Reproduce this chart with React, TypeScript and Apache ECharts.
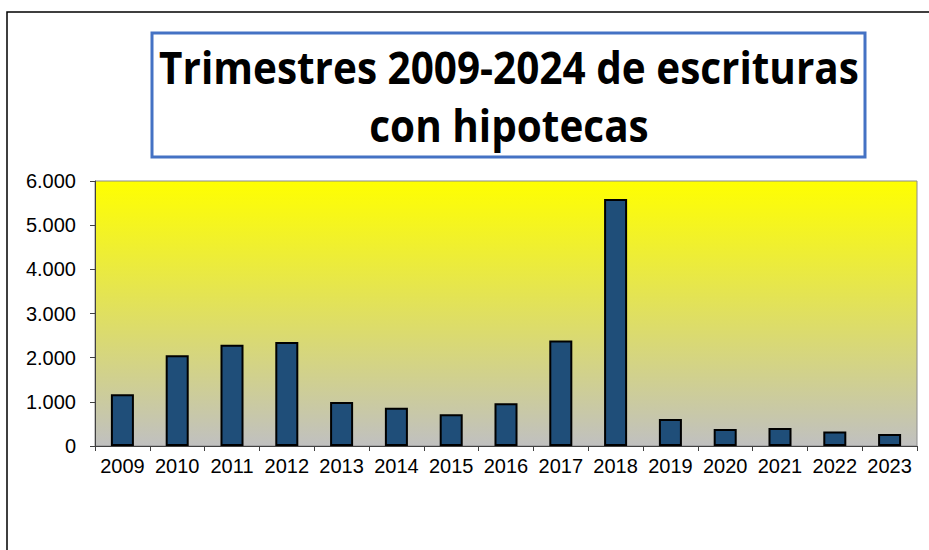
import React, { useEffect, useRef } from "react";
import * as echarts from "echarts";

const years = ["2009", "2010", "2011", "2012", "2013", "2014", "2015", "2016", "2017", "2018", "2019", "2020", "2021", "2022", "2023"];
const escrituras = [1170, 2055, 2290, 2355, 995, 865, 720, 970, 2390, 5590, 612, 385, 405, 327, 272];
const yTicks = { min: 0, max: 6000, interval: 1000 };
const titleLines = ["Trimestres 2009-2024 de escrituras", "con hipotecas"];

function fmt(v: number): string {
  return String(v).replace(/\B(?=(\d{3})+(?!\d))/g, ".");
}

export default function App() {
  const ref = useRef<HTMLDivElement>(null);
  useEffect(() => {
    if (!ref.current) return;
    const chart = echarts.init(ref.current, null, { renderer: "svg" });
    chart.setOption({
      animation: false,
      backgroundColor: "#ffffff",
      grid: {
        left: 95,
        right: 12,
        top: 181,
        bottom: 104,
        show: true,
        borderColor: "#8c8c8c",
        borderWidth: 1,
        backgroundColor: new echarts.graphic.LinearGradient(0, 0, 0, 1, [
          { offset: 0, color: "#ffff00" },
          { offset: 1, color: "#c0c0c0" },
        ]),
      },
      graphic: [
        {
          type: "rect",
          shape: { x: 7, y: 12, width: 960, height: 600 },
          style: { fill: "none", stroke: "#000000", lineWidth: 1.5 },
          silent: true,
        },
        {
          type: "rect",
          shape: { x: 152, y: 33, width: 713, height: 124 },
          style: { fill: "#ffffff", stroke: "#4472c4", lineWidth: 3 },
          silent: true,
        },
        {
          type: "text",
          x: 509,
          y: 67,
          scaleX: 0.92,
          style: {
            text: titleLines[0],
            fontFamily: "Open Sans",
            fontWeight: "bold",
            fontSize: 44,
            fill: "#000000",
            align: "center",
            verticalAlign: "middle",
          },
        },
        {
          type: "text",
          x: 509,
          y: 125,
          scaleX: 0.92,
          style: {
            text: titleLines[1],
            fontFamily: "Open Sans",
            fontWeight: "bold",
            fontSize: 44,
            fill: "#000000",
            align: "center",
            verticalAlign: "middle",
          },
        },
      ],
      xAxis: {
        type: "category",
        data: years,
        boundaryGap: true,
        axisLine: { show: true, lineStyle: { color: "#404040", width: 1 } },
        axisTick: { show: true, length: 5, lineStyle: { color: "#404040" } },
        axisLabel: {
          color: "#000000",
          fontFamily: "Liberation Sans",
          fontSize: 20,
          margin: 10,
          interval: 0,
        },
        splitLine: { show: false },
      },
      yAxis: {
        type: "value",
        min: yTicks.min,
        max: yTicks.max,
        interval: yTicks.interval,
        axisLine: { show: true, lineStyle: { color: "#404040", width: 1 } },
        axisTick: { show: true, length: 5, lineStyle: { color: "#404040" } },
        axisLabel: {
          color: "#000000",
          fontFamily: "Liberation Sans",
          fontSize: 20,
          margin: 19,
          formatter: (v: number) => fmt(v),
        },
        splitLine: { show: false },
      },
      series: [
        {
          type: "bar",
          data: escrituras,
          barWidth: "42%",
          itemStyle: { color: "#1f4e79", borderColor: "#000000", borderWidth: 2 },
        },
      ],
    });
    return () => chart.dispose();
  }, []);
  return (
    <div
      ref={ref}
      style={{ position: "fixed", left: 0, top: 0, width: 929, height: 550 }}
    />
  );
}
